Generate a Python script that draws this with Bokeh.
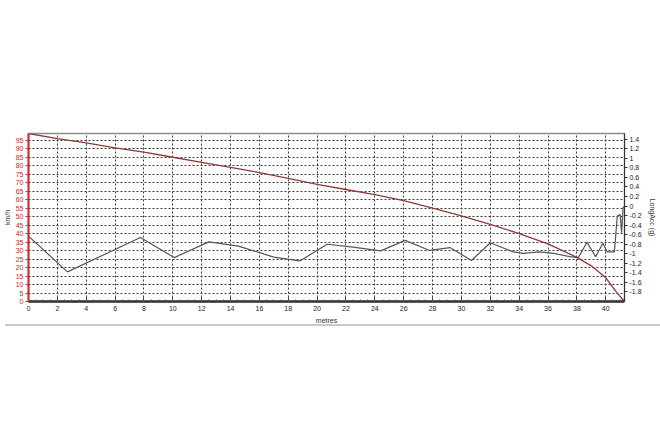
from bokeh.plotting import figure
from bokeh.models import Range1d, LinearAxis, FixedTicker, CustomJSTickFormatter, Div
from bokeh.layouts import column
from bokeh.embed import file_html
from bokeh.resources import INLINE

# ---- data ----
dist_speed = [0, 2, 4, 6, 8, 10, 12, 14, 16, 18, 20, 22, 24, 26, 28, 30, 32, 34, 36, 38, 39, 40, 40.7, 41.3]
speed_kmh = [99, 96, 93.5, 90.5, 88, 85, 82, 79, 76, 72.5, 69, 66, 63, 59.5, 55, 50.5, 45.5, 40, 34, 26, 21, 14, 6, 0]

dist_acc = [0, 2.7, 7.75, 10.1, 12.5, 14.55, 17.0, 18.8, 20.7, 22.5, 24.4, 26.1, 27.8, 29.2, 30.7, 32.0,
            33.6, 34.3, 35.4, 36.4, 37.5, 38.1, 38.7, 39.3, 39.8, 40.1, 40.6, 40.8, 41.0, 41.1, 41.2, 41.3]
long_acc = [-0.63, -1.38, -0.66, -1.08, -0.75, -0.84, -1.07, -1.15, -0.80, -0.86, -0.94, -0.72, -0.93, -0.87,
            -1.14, -0.77, -0.96, -0.99, -0.96, -0.99, -1.06, -1.08, -0.76, -1.06, -0.78, -0.96, -0.96, -0.21,
            -0.18, -0.56, -0.04, 0.0]

x_ticks = list(range(0, 41, 2))
x_minor = [i * 0.5 for i in range(0, 83)]
speed_ticks = list(range(0, 96, 5))
acc_ticks = [round(-1.8 + 0.2 * i, 1) for i in range(17)]

FONT = "Liberation Sans"

p = figure(width=660, height=326, x_range=Range1d(0, 41.3), y_range=Range1d(0, 99),
           output_backend="svg", toolbar_location=None,
           min_border_top=133, min_border_left=28, min_border_right=36, min_border_bottom=24)
p.extra_y_ranges = {"acc": Range1d(-2.0, 1.52)}
p.outline_line_color = "#8a8a8a"
p.outline_line_width = 1.5

# grids
p.xgrid.ticker = FixedTicker(ticks=x_ticks)
p.ygrid.ticker = FixedTicker(ticks=speed_ticks)
for g in (p.xgrid[0], p.ygrid[0]):
    g.grid_line_color = "#3a3a3a"
    g.grid_line_dash = "2 2"
    g.grid_line_width = 1

# bottom axis
xa = p.xaxis[0]
xa.ticker = FixedTicker(ticks=x_ticks, minor_ticks=x_minor)
xa.axis_label = "metres"
xa.axis_line_color = "#333333"
xa.axis_line_width = 2.5
xa.major_tick_in = 4
xa.major_tick_out = 0
xa.minor_tick_in = 2
xa.minor_tick_out = 0
xa.major_tick_line_color = "#333333"
xa.minor_tick_line_color = "#555555"
xa.major_label_standoff = 4
xa.axis_label_standoff = 3

# left axis (speed)
ya = p.yaxis[0]
ya.ticker = FixedTicker(ticks=speed_ticks)
ya.axis_label = "km/h"
ya.axis_line_color = "#d03030"
ya.axis_line_width = 2
ya.major_tick_line_color = "#d03030"
ya.major_tick_in = 0
ya.major_tick_out = 3
ya.minor_tick_line_color = None
ya.major_label_standoff = 2
ya.axis_label_standoff = 2

# right axis (LongAcc)
ra = LinearAxis(y_range_name="acc", axis_label="LongAcc (g)")
ra.ticker = FixedTicker(ticks=acc_ticks)
ra.formatter = CustomJSTickFormatter(code="return String(Number(tick.toFixed(1)));")
ra.axis_line_color = "#333333"
ra.major_tick_line_color = "#333333"
ra.major_tick_in = 0
ra.major_tick_out = 3
ra.minor_tick_line_color = None
ra.major_label_standoff = 2
ra.axis_label_standoff = 4
p.add_layout(ra, "right")

for ax in (xa, ya, ra):
    ax.major_label_text_font = FONT
    ax.major_label_text_font_size = "7px"
    ax.axis_label_text_font = FONT
    ax.axis_label_text_font_size = "7px"
    ax.axis_label_text_font_style = "normal"
    ax.axis_label_text_color = "#333333"
ya.major_label_text_color = "#cc2222"
xa.major_label_text_color = "#222222"
ra.major_label_text_color = "#222222"

# series
p.line(dist_acc, long_acc, y_range_name="acc", line_color="#555555", line_width=1.2)
p.line(dist_speed, speed_kmh, line_color="#8c3a3a", line_width=1.3)

sep = Div(text="", width=660, height=2,
          styles={"background-color": "#c8c8c8", "margin-top": "-2px"})

layout = column(p, sep, spacing=0)
open("out.html", "w").write(file_html(layout, INLINE))
